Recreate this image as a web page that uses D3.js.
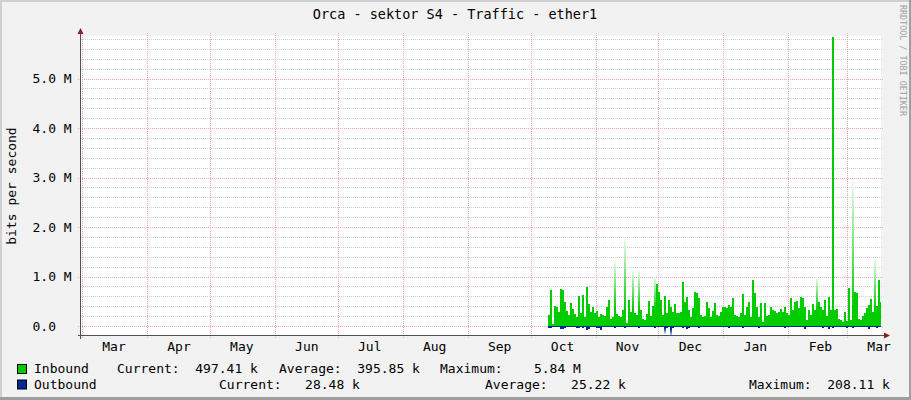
<!DOCTYPE html>
<html><head><meta charset="utf-8">
<script src="https://cdn.jsdelivr.net/npm/d3@7"></script>
<style>
body{margin:0;background:#f2f2f2}
svg{display:block}
text{font-family:"DejaVu Sans Mono",monospace;fill:#000}
</style>
</head><body>
<svg id="c" width="911" height="400"></svg>
<script>
// ---------- data ----------
const title = "Orca - sektor S4 - Traffic - ether1";
const yAxisTitle = "bits per second";
const credit = "RRDTOOL / TOBI OETIKER";
const monthLabels = ["Mar","Apr","May","Jun","Jul","Aug","Sep","Oct","Nov","Dec","Jan","Feb","Mar"];
const yTicks = [0, 1e6, 2e6, 3e6, 4e6, 5e6];
const yTickLabels = ["0.0", "1.0 M", "2.0 M", "3.0 M", "4.0 M", "5.0 M"];
const timeStart = "2016-02-29T12:00:00Z";
const timeEnd = "2017-03-17T04:00:00Z";
const sampleStart = "2016-10-09T07:00:00Z";
const sampleHours = 22.9;
// inbound, Mbit/s per sample
const inboundM = [
0.22,0.73,0.05,0.40,0.38,0.29,0.74,0.73,0.49,0.30,
0.22,0.46,0.34,0.24,0.19,0.61,0.26,0.63,0.18,0.79,
0.45,0.29,0.39,0.26,0.30,0.18,0.24,0.22,0.20,0.38,
0.53,0.15,0.18,1.33,0.24,0.20,0.18,0.32,1.77,0.07,
0.53,0.29,1.14,0.26,0.22,1.14,0.32,0.15,0.12,0.24,
0.51,0.20,0.40,1.00,0.86,0.69,0.53,0.22,0.61,0.26,
0.53,0.39,0.29,0.44,0.27,0.26,0.29,0.90,0.49,0.59,
0.32,0.19,0.36,0.69,0.66,0.56,0.22,0.19,0.20,0.49,
0.36,0.18,
0.31,0.46,0.22,0.20,0.29,0.38,0.39,0.36,0.42,0.39,
0.56,0.22,0.20,0.18,0.27,0.65,0.22,0.39,0.49,0.19,
0.93,0.66,0.39,0.18,0.47,0.09,0.46,0.20,0.22,0.39,
0.32,0.31,0.27,0.29,0.34,0.29,0.38,0.26,0.22,0.56,
0.32,0.49,
0.51,0.36,0.59,0.56,0.39,0.13,0.32,0.22,0.44,0.32,
1.00,0.49,0.38,0.32,0.53,0.20,0.59,0.32,5.84,0.32,
0.34,0.15,0.12,0.09,0.29,0.11,0.76,0.12,2.95,0.69,
0.66,0.15,0.12,0.20,0.27,0.36,0.42,0.54,0.29,1.37,
0.40,0.93,0.49
];
// outbound, kbit/s per sample (drawn below zero)
const outboundK = [
30,45,25,22,28,24,60,55,30,26, 22,25,28,24,40,30,22,35,28,75,
50,26,24,22,30,45,70,26,22,24, 28,25,22,40,28,24,26,22,30,24,
26,22,28,24,22,30,25,22,24,28, 26,22,24,30,28,26,24,22,150,30,
25,208,40,26,24,22,28,30,26,50, 35,24,22,26,28,30,24,22,26,28,
24,22,
24,26,22,28,24,22,26,28,30,24, 22,26,24,28,22,45,26,24,22,28,
26,24,22,30,26,24,28,22,26,24, 22,26,28,24,22,26,30,24,22,28,
26,24,
26,28,24,22,55,26,24,22,28,26, 24,22,26,30,28,24,60,26,35,24,
22,26,28,24,22,30,26,28,45,24, 22,26,28,24,22,26,55,28,24,22,
30,26,28
];
const legendNames = ["Inbound", "Outbound"];
const legendColors = ["#00cc00", "#002a97"];
const inboundStats = ["Current:  497.41 k", "Average:  395.85 k", "Maximum:    5.84 M"];
const outboundStats = ["Current:   28.48 k", "Average:   25.22 k", "Maximum:  208.11 k"];

// ---------- layout ----------
const W = 911, H = 400;
const L = 81, R = 881, T = 36, B = 336;
const svg = d3.select("#c");

const x = d3.scaleUtc().domain([new Date(timeStart), new Date(timeEnd)]).range([L, R]);
const y = d3.scaleLinear().domain([-0.2e6, 5.86e6]).range([B, T]);

// canvas + frame
svg.append("rect").attr("width", W).attr("height", H).attr("fill", "#f2f2f2");
svg.append("rect").attr("x", 0).attr("y", 0).attr("width", W).attr("height", 2).attr("fill", "#cfcfcf");
svg.append("rect").attr("x", 0).attr("y", 0).attr("width", 2).attr("height", H).attr("fill", "#cfcfcf");
svg.append("rect").attr("x", W - 2).attr("y", 0).attr("width", 2).attr("height", H).attr("fill", "#9e9e9e");
svg.append("rect").attr("x", 0).attr("y", H - 3).attr("width", W).attr("height", 3).attr("fill", "#9e9e9e");

// plot area
svg.append("rect").attr("x", L).attr("y", T).attr("width", R - L).attr("height", B - T).attr("fill", "#fff");

// grid
const grid = svg.append("g").attr("shape-rendering", "crispEdges");
const minorVals = d3.range(0, 5.81e6, 0.2e6).filter(v => Math.abs(v / 1e6 - Math.round(v / 1e6)) > 1e-6);
grid.selectAll(".minor").data(minorVals).join("line")
  .attr("x1", L).attr("x2", R + 2).attr("y1", d => Math.round(y(d)) + 0.5).attr("y2", d => Math.round(y(d)) + 0.5)
  .attr("stroke", "#cfcfcf").attr("stroke-dasharray", "1,1");
grid.selectAll(".major").data(yTicks).join("line")
  .attr("x1", L - 3).attr("x2", R + 3).attr("y1", d => Math.round(y(d)) + 0.5).attr("y2", d => Math.round(y(d)) + 0.5)
  .attr("stroke", "#f2a8a8").attr("stroke-dasharray", "1,1");
const monthStarts = d3.utcMonth.range(new Date("2016-03-01T00:00:00Z"), new Date("2017-03-02T00:00:00Z"));
grid.selectAll(".mon").data(monthStarts).join("line")
  .attr("x1", d => Math.round(x(d)) + 0.5).attr("x2", d => Math.round(x(d)) + 0.5)
  .attr("y1", T - 3).attr("y2", B + 3)
  .attr("stroke", "#f2a8a8").attr("stroke-dasharray", "1,1");

// data bars
const defs = svg.append("defs");
defs.append("clipPath").attr("id", "plotclip").append("rect")
  .attr("x", L).attr("y", T).attr("width", R - L).attr("height", B - T);
const stepMs = sampleHours * 3600 * 1000;
const t0 = new Date(sampleStart).getTime();
const inbound = inboundM.map((v, i) => ({ t: new Date(t0 + i * stepMs), t1: new Date(t0 + (i + 1) * stepMs), v: v * 1e6, i }));
const outbound = outboundK.map((v, i) => ({ t: new Date(t0 + i * stepMs), t1: new Date(t0 + (i + 1) * stepMs), v: v * 1e3, i }));
const maxIn = d3.max(inbound, d => d.v);

inbound.forEach(d => {
  if (d.v >= 0.95e6 && d.v < maxIn) {
    const g = defs.append("linearGradient").attr("id", "gi" + d.i).attr("gradientUnits", "userSpaceOnUse")
      .attr("x1", 0).attr("x2", 0).attr("y1", y(0)).attr("y2", y(d.v));
    g.append("stop").attr("offset", 0).attr("stop-color", "#00cc00");
    g.append("stop").attr("offset", 0.35e6 / d.v).attr("stop-color", "#00cc00");
    g.append("stop").attr("offset", 1).attr("stop-color", "#f2fcf2");
  }
});
outbound.forEach(d => {
  if (d.v >= 100e3) {
    const g = defs.append("linearGradient").attr("id", "go" + d.i).attr("gradientUnits", "userSpaceOnUse")
      .attr("x1", 0).attr("x2", 0).attr("y1", y(0)).attr("y2", y(-d.v));
    g.append("stop").attr("offset", 0).attr("stop-color", "#002a97");
    g.append("stop").attr("offset", 0.3).attr("stop-color", "#002a97");
    g.append("stop").attr("offset", 1).attr("stop-color", "#dde3f3");
  }
});

const data = svg.append("g").attr("clip-path", "url(#plotclip)").attr("shape-rendering", "crispEdges");
data.selectAll(".in").data(inbound).join("rect")
  .attr("x", d => x(d.t)).attr("width", d => x(d.t1) - x(d.t))
  .attr("y", d => y(d.v)).attr("height", d => y(0) - y(d.v))
  .attr("fill", d => (d.v >= 0.95e6 && d.v < maxIn) ? `url(#gi${d.i})` : "#00cc00");
data.selectAll(".out").data(outbound).join("rect")
  .attr("x", d => x(d.t)).attr("width", d => x(d.t1) - x(d.t))
  .attr("y", y(0)).attr("height", d => y(-d.v) - y(0))
  .attr("fill", d => d.v >= 100e3 ? `url(#go${d.i})` : "#002a97");

// axes
const axCol = "#505050", arrowCol = "#8c1c1c";
svg.append("line").attr("x1", 80.5).attr("x2", 80.5).attr("y1", B + 3).attr("y2", T - 5)
  .attr("stroke", axCol);
svg.append("line").attr("x1", L - 3).attr("x2", R + 4).attr("y1", B - 0.5).attr("y2", B - 0.5)
  .attr("stroke", axCol);
svg.append("path").attr("d", "M77.5,34 L83.5,34 L80.5,28 Z").attr("fill", arrowCol);
svg.append("path").attr("d", `M${R + 3},332.5 L${R + 3},338.5 L${R + 9},335.5 Z`).attr("fill", arrowCol);

const yAxis = d3.axisLeft(y).tickValues(yTicks).tickFormat((d, i) => yTickLabels[i]).tickSize(0);
const ya = svg.append("g").attr("transform", `translate(${L},0)`).call(yAxis);
ya.select(".domain").remove();
ya.selectAll("text").attr("x", 32.5 - L).attr("text-anchor", "start")
  .style("font-family", '"DejaVu Sans Mono", monospace').style("font-size", "13px").attr("fill", "#000");

const midMonths = monthStarts.map(m => d3.utcDay.offset(m, 15));
const xAxis = d3.axisBottom(x).tickValues(midMonths).tickFormat((d, i) => monthLabels[i]).tickSize(0).tickPadding(5.5);
const xa = svg.append("g").attr("transform", `translate(0,${B})`).call(xAxis);
xa.select(".domain").remove();
xa.selectAll("text").style("font-family", '"DejaVu Sans Mono", monospace').style("font-size", "13px").attr("fill", "#000");

// title & labels
svg.append("text").attr("x", 455).attr("y", 19).attr("text-anchor", "middle")
  .style("font-size", "13.5px").text(title);
svg.append("text").attr("transform", "translate(16,186) rotate(-90)").attr("text-anchor", "middle")
  .style("font-size", "13px").text(yAxisTitle);
svg.append("text").attr("transform", "translate(899.5,5) rotate(90)").attr("text-anchor", "start")
  .style("font-size", "8.4px").style("fill", "#a0a0a0").text(credit);

// legend
const lg = svg.append("g");
const rows = [373, 388.5];
legendNames.forEach((n, i) => {
  lg.append("rect").attr("x", 17.5).attr("y", rows[i] - 8.5).attr("width", 9).attr("height", 9)
    .attr("fill", legendColors[i]).attr("stroke", "#000");
  lg.append("text").attr("x", 34).attr("y", rows[i]).style("font-size", "13px").text(n);
});
const statX = [[117, 279, 440], [219, 485, 749]];
[inboundStats, outboundStats].forEach((arr, r) => {
  arr.forEach((s, j) => {
    lg.append("text").attr("x", statX[r][j]).attr("y", rows[r]).style("font-size", "13px")
      .style("white-space", "pre").text(s);
  });
});
</script>
</body></html>
